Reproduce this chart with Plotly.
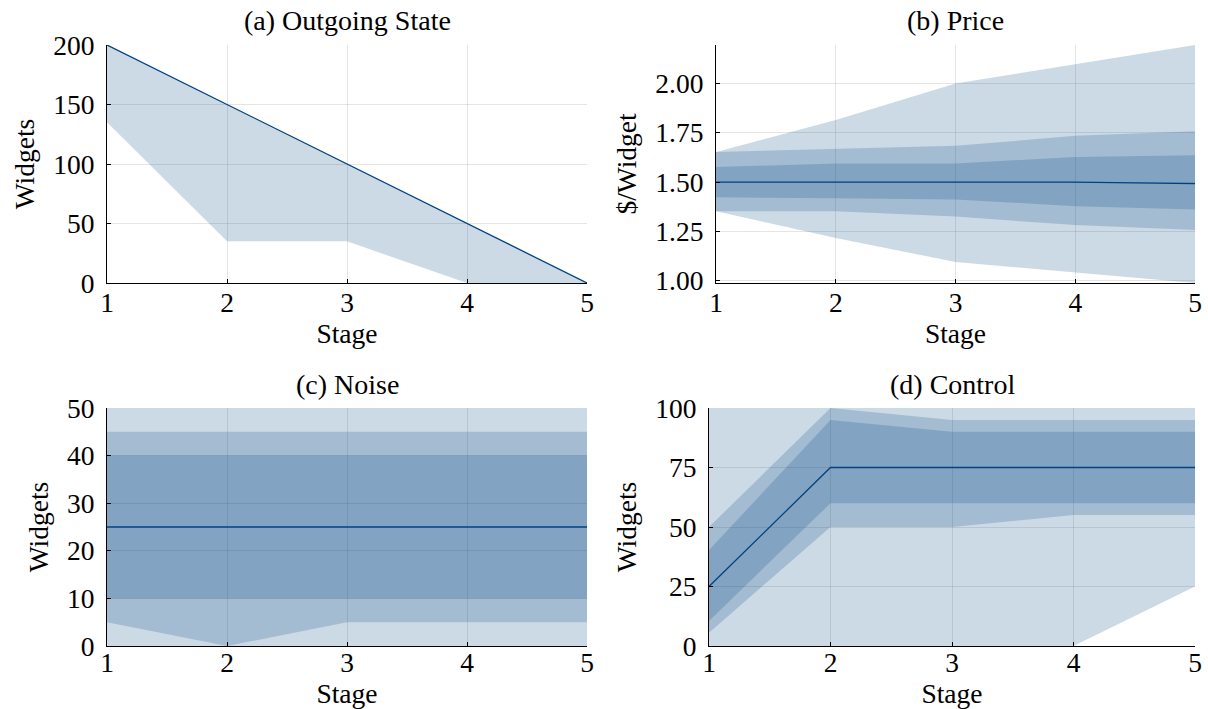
import plotly.graph_objects as go

W, H = 1208, 709
stages = [1, 2, 3, 4, 5]

# (a) Outgoing State
a_median = [200, 150, 100, 50, 0]
a_outer_lo = [135, 35, 35, 0, 0]
a_outer_hi = [200, 150, 100, 50, 0]

# (b) Price
b_median = [1.50, 1.50, 1.50, 1.50, 1.492]
b_outer_lo = [1.352, 1.216, 1.095, 1.041, 0.988]
b_outer_hi = [1.653, 1.815, 2.000, 2.097, 2.196]
b_mid_lo = [1.352, 1.352, 1.325, 1.282, 1.257]
b_mid_hi = [1.653, 1.670, 1.684, 1.735, 1.758]
b_in_lo = [1.423, 1.418, 1.412, 1.378, 1.361]
b_in_hi = [1.577, 1.594, 1.594, 1.628, 1.636]

# (c) Noise
c_median = [25, 25, 25, 25, 25]
c_outer_lo = [0, 0, 0, 0, 0]
c_outer_hi = [50, 50, 50, 50, 50]
c_mid_lo = [5, 0, 5, 5, 5]
c_mid_hi = [45, 45, 45, 45, 45]
c_in_lo = [10, 10, 10, 10, 10]
c_in_hi = [40, 40, 40, 40, 40]

# (d) Control
d_median = [25, 75, 75, 75, 75]
d_outer_lo = [0, 0, 0, 0, 25]
d_outer_hi = [100, 100, 100, 100, 100]
d_mid_lo = [5.6, 50, 50, 55, 55]
d_mid_hi = [50, 100, 95, 95, 95]
d_in_lo = [10.5, 60, 60, 60, 60]
d_in_hi = [40.3, 95, 90, 90, 90]

titles = ["(a) Outgoing State", "(b) Price", "(c) Noise", "(d) Control"]
ylabels = ["Widgets", "$/Widget", "Widgets", "Widgets"]
xlabel = "Stage"

panels = [
    (a_median, [(a_outer_lo, a_outer_hi)], [0, 200], [0, 50, 100, 150, 200], None),
    (b_median, [(b_outer_lo, b_outer_hi), (b_mid_lo, b_mid_hi), (b_in_lo, b_in_hi)],
     [0.988, 2.196], [1.0, 1.25, 1.5, 1.75, 2.0], ["1.00", "1.25", "1.50", "1.75", "2.00"]),
    (c_median, [(c_outer_lo, c_outer_hi), (c_mid_lo, c_mid_hi), (c_in_lo, c_in_hi)],
     [0, 50], [0, 10, 20, 30, 40, 50], None),
    (d_median, [(d_outer_lo, d_outer_hi), (d_mid_lo, d_mid_hi), (d_in_lo, d_in_hi)],
     [0, 100], [0, 25, 50, 75, 100], None),
]

# plot-area pixel boxes (left, right, top, bottom)
boxes = [(107, 587, 45, 283), (716, 1195, 45, 283), (107, 587, 408, 646), (709, 1195, 408, 646)]
xlabel_shift = [-5, -5, -8, -8]

LINE = "rgb(0,66,128)"
FILL = "rgba(0,70,130,0.2)"
FONT = "Liberation Serif, Times New Roman, serif"

fig = go.Figure()
layout = dict(
    template="none",
    width=W, height=H, margin=dict(l=0, r=0, t=0, b=0, pad=0),
    paper_bgcolor="white", plot_bgcolor="white", showlegend=False,
    font=dict(family=FONT, color="black", size=27),
    annotations=[],
)

for i, (med, bands, yr, yt, ytt) in enumerate(panels):
    k = "" if i == 0 else str(i + 1)
    xa, ya = "x" + k, "y" + k
    for lo, hi in bands:
        fig.add_trace(go.Scatter(
            x=stages + stages[::-1], y=list(hi) + list(lo)[::-1],
            xaxis=xa, yaxis=ya, mode="lines", fill="toself",
            fillcolor=FILL, line=dict(width=0), hoverinfo="skip"))
    fig.add_trace(go.Scatter(x=stages, y=med, xaxis=xa, yaxis=ya, mode="lines",
                             line=dict(color=LINE, width=1.3)))
    l, r, t, b = boxes[i]
    axcommon = dict(showline=True, linecolor="black", linewidth=1.2, mirror=False,
                    ticks="inside", ticklen=4, tickcolor="black", automargin=False,
                    showgrid=True, gridcolor="rgba(0,0,0,0.1)", gridwidth=1,
                    zeroline=False, tickfont=dict(family=FONT, size=27.5, color="black"))
    layout["xaxis" + k] = dict(
        domain=[l / W, r / W], anchor=ya, range=[1, 5], tickvals=stages,
        ticklabelstandoff=xlabel_shift[i],
        title=dict(text=xlabel, font=dict(family=FONT, size=27.5), standoff=0), **axcommon)
    yd = dict(domain=[1 - b / H, 1 - t / H], anchor=xa, range=yr, tickvals=yt,
              ticklabelstandoff=6,
              title=dict(text=ylabels[i], font=dict(family=FONT, size=27.5), standoff=10),
              **axcommon)
    if ytt:
        yd["ticktext"] = ytt
    layout["yaxis" + k] = yd
    layout["annotations"].append(dict(
        text=titles[i], x=(l + r) / 2 / W, y=1 - (t - 24) / H, xref="paper", yref="paper",
        xanchor="center", yanchor="middle", showarrow=False,
        font=dict(family=FONT, size=28, color="black")))

fig.update_layout(**layout)
fig.write_html("out.html", config={"displayModeBar": False},
               post_script="document.body.style.margin='0';")
